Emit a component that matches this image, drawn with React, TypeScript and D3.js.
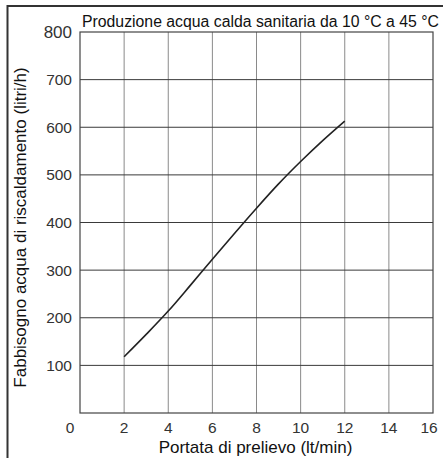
import React from 'react';
import * as d3 from 'd3';

// flow rate (lt/min) -> heating water requirement (litri/h)
const flowRate = [2, 3, 4, 5, 6, 7, 8, 9, 10, 11, 12];
const heatingNeed = [118, 165, 214, 268, 323, 377, 430, 481, 528, 572, 613];

const xTicks = [0, 2, 4, 6, 8, 10, 12, 14, 16];
const yTicks = [100, 200, 300, 400, 500, 600, 700, 800];

const title = 'Produzione acqua calda sanitaria da 10 °C a 45 °C';
const xTitle = 'Portata di prelievo (lt/min)';
const yTitle = 'Fabbisogno acqua di riscaldamento (litri/h)';

const W = 443;
const H = 458;
const margin = { top: 32, right: 10, bottom: 45, left: 80 };
const font = '"Liberation Sans", Arial, sans-serif';

export default function App() {
  const x = d3.scaleLinear().domain([0, 16]).range([margin.left, W - margin.right]);
  const y = d3.scaleLinear().domain([0, 800]).range([H - margin.bottom, margin.top]);

  const line = d3
    .line<number>()
    .x((_, i) => x(flowRate[i]))
    .y((d) => y(d))
    .curve(d3.curveMonotoneX);

  const x0 = x(0);
  const x1 = x(16);
  const y0 = y(0);
  const y1 = y(800);

  return (
    <svg
      width={W}
      height={H}
      style={{ position: 'absolute', left: 0, top: 0, background: '#fff' }}
      fontFamily={font}
    >
      {/* outer frame (top + left only) */}
      <path d={`M7.5,${H} V6 H${W}`} fill="none" stroke="#333" strokeWidth={2} />

      {/* vertical grid */}
      {xTicks.slice(1, -1).map((t) => (
        <line key={'v' + t} x1={x(t)} x2={x(t)} y1={y1} y2={y0} stroke="#8a8a8a" strokeWidth={1} />
      ))}
      {/* horizontal grid */}
      {yTicks.slice(0, -1).map((t) => (
        <line key={'h' + t} x1={x0} x2={x1} y1={y(t)} y2={y(t)} stroke="#3a3a3a" strokeWidth={1} />
      ))}
      <rect x={x0} y={y1} width={x1 - x0} height={y0 - y1} fill="none" stroke="#444" strokeWidth={1.2} />

      <path d={line(heatingNeed) ?? ''} fill="none" stroke="#222" strokeWidth={1.6} />

      {/* y tick labels */}
      {yTicks.map((t) => (
        <text
          key={'yl' + t}
          x={x0 - 8}
          y={y(t)}
          dy="0.36em"
          textAnchor="end"
          fontSize={t === 800 ? 17 : 15.5}
          fill="#333"
        >
          {t}
        </text>
      ))}
      {/* x tick labels */}
      {xTicks.map((t) => (
        <text
          key={'xl' + t}
          x={t === 0 ? x(t) - 10 : t === 16 ? x(t) - 4 : x(t)}
          y={y0 + 20}
          textAnchor="middle"
          fontSize={15.5}
          fill="#333"
        >
          {t}
        </text>
      ))}

      <text x={x0 + 2} y={27} fontSize={15.8} fill="#111">
        {title}
      </text>
      <text x={(x0 + x1) / 2 - 1} y={453} textAnchor="middle" fontSize={17} fill="#111">
        {xTitle}
      </text>
      <text
        transform={`translate(26,${(y0 + y1) / 2 + 5}) rotate(-90)`}
        textAnchor="middle"
        fontSize={17}
        fill="#111"
      >
        {yTitle}
      </text>
    </svg>
  );
}
